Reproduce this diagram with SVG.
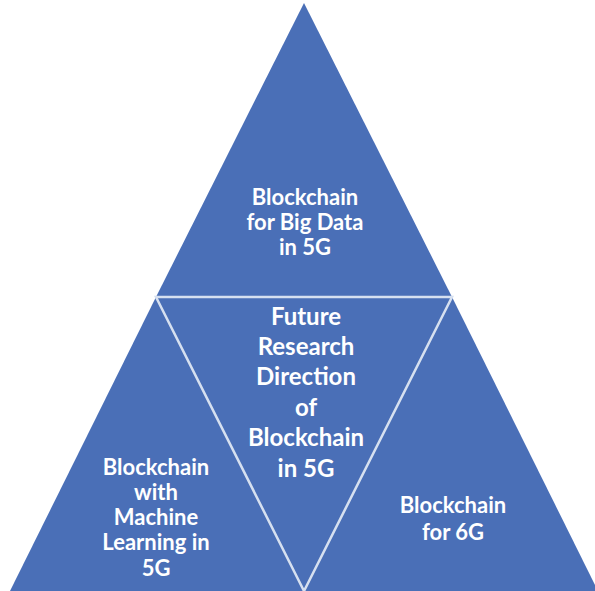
<svg xmlns="http://www.w3.org/2000/svg" width="595" height="591" viewBox="0 0 595 591">
<style>
.tri{fill:#4A6FB7;}
.sep{fill:none;stroke:#D6E0F0;stroke-width:2.5;stroke-linejoin:miter;}
.t{font-family:Lato,"Open Sans","Liberation Sans",sans-serif;font-weight:bold;fill:#FFFFFF;text-anchor:middle;font-size:22px;}
.c{font-size:24px;}
</style>
<rect width="595" height="591" fill="#FFFFFF"/>
<g id="top">
<polygon class="tri" points="304,3 156,297 452,297"/>
<text class="t" x="305" y="205">Blockchain</text>
<text class="t" x="305" y="230">for Big Data</text>
<text class="t" x="305" y="255">in 5G</text>
</g>
<g id="left">
<polygon class="tri" points="156,297 10,591 304,591"/>
<text class="t" x="156" y="475">Blockchain</text>
<text class="t" x="156" y="500">with</text>
<text class="t" x="156" y="525">Machine</text>
<text class="t" x="156" y="550">Learning in</text>
<text class="t" x="156" y="576">5G</text>
</g>
<g id="right">
<polygon class="tri" points="452,297 304,591 598,591"/>
<text class="t" x="453" y="513">Blockchain</text>
<text class="t" x="453" y="540">for 6G</text>
</g>
<g id="center">
<polygon class="tri" points="156,297 452,297 304,591"/>
<text class="t c" x="306" y="325">Future</text>
<text class="t c" x="306" y="355">Research</text>
<text class="t c" x="306" y="385">Direction</text>
<text class="t c" x="306" y="416">of</text>
<text class="t c" x="306" y="446">Blockchain</text>
<text class="t c" x="306" y="477">in 5G</text>
</g>
<g id="connectors">
<polygon class="sep" points="156,297 452,297 304,591"/>
</g>
</svg>
